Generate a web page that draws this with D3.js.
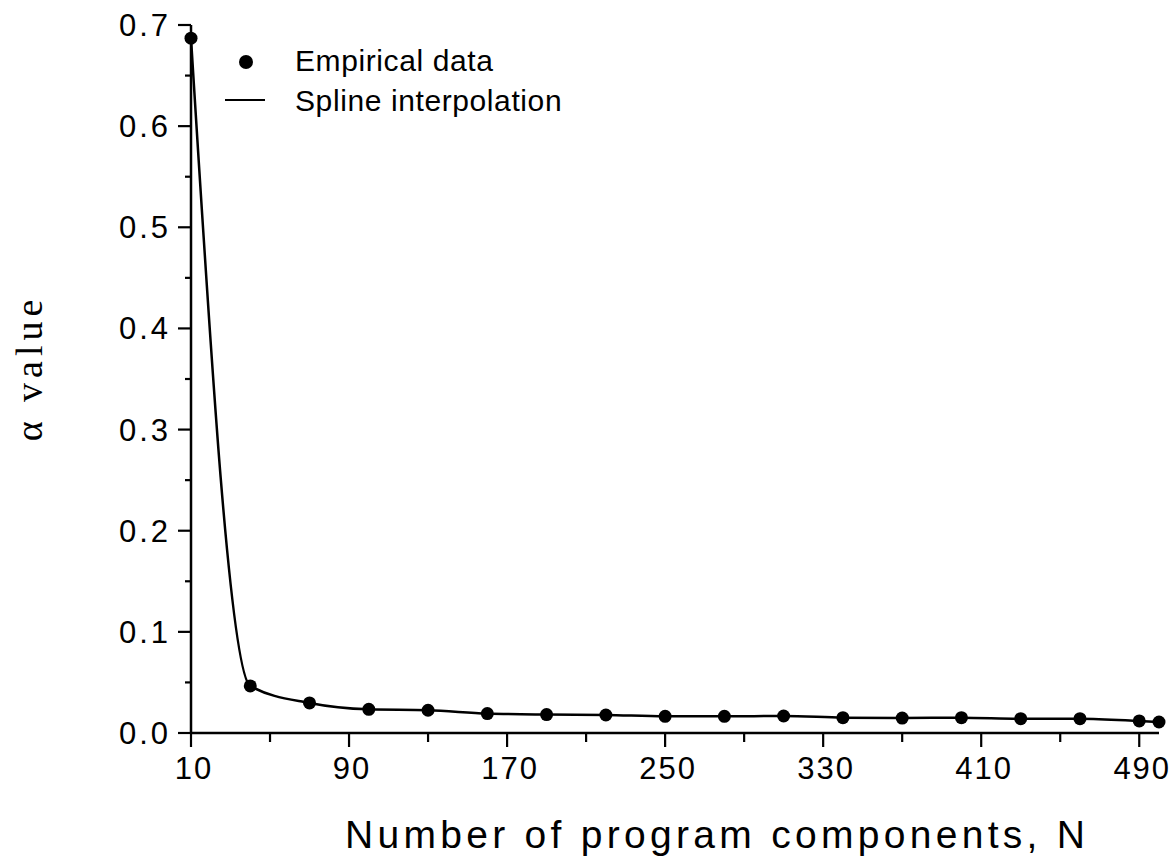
<!DOCTYPE html>
<html lang="en">
<head>
<meta charset="utf-8">
<script src="https://d3js.org/d3.v7.min.js"></script>
<style>
  body { margin: 0; background: #fff; }
  text { font-family: "Liberation Sans", Arial, sans-serif; fill: #000; }
</style>
</head>
<body>
<svg id="chart" width="1172" height="858"></svg>
<script>
// empirical points
const nValues     = [10, 40, 70, 100, 130, 160, 190, 220, 250, 280, 310, 340, 370, 400, 430, 460, 490, 500];
const alphaValues = [0.687, 0.0465, 0.0297, 0.0234, 0.0225, 0.0192, 0.0182, 0.0178, 0.0165, 0.0165,
                     0.0168, 0.0152, 0.0148, 0.0152, 0.0142, 0.0142, 0.0119, 0.0109];

const xMajor = [10, 90, 170, 250, 330, 410, 490];
const xMinor = [50, 130, 210, 290, 370, 450];
const yMajor = [0, 0.1, 0.2, 0.3, 0.4, 0.5, 0.6, 0.7];
const yMinor = [0.05, 0.15, 0.25, 0.35, 0.45, 0.55, 0.65];

const legendItems = ["Empirical data", "Spline interpolation"];

const svg = d3.select("#chart");

const x = d3.scaleLinear().domain([10, 500]).range([191, 1159]);
const y = d3.scaleLinear().domain([0, 0.7]).range([733, 25]);

const data = nValues.map((n, i) => ({ n: n, a: alphaValues[i] }));

// axes
const g = svg.append("g");

g.append("line")
  .attr("x1", x(10)).attr("x2", x(500))
  .attr("y1", y(0)).attr("y2", y(0))
  .attr("stroke", "#000").attr("stroke-width", 2.5);
g.append("line")
  .attr("x1", x(10)).attr("x2", x(10))
  .attr("y1", y(0.7)).attr("y2", y(0))
  .attr("stroke", "#000").attr("stroke-width", 2.5);

// y ticks
g.selectAll(".ymaj").data(yMajor).join("line")
  .attr("x1", x(10) - 13).attr("x2", x(10))
  .attr("y1", d => y(d)).attr("y2", d => y(d))
  .attr("stroke", "#000").attr("stroke-width", 2.2);
g.selectAll(".ymin").data(yMinor).join("line")
  .attr("x1", x(10) - 6).attr("x2", x(10))
  .attr("y1", d => y(d)).attr("y2", d => y(d))
  .attr("stroke", "#000").attr("stroke-width", 2.2);
g.selectAll(".ylab").data(yMajor).join("text")
  .attr("x", x(10) - 20)
  .attr("y", d => y(d) + 11)
  .attr("text-anchor", "end")
  .attr("font-size", 31)
  .attr("letter-spacing", 3)
  .text(d => d3.format(".1f")(d));

// x ticks
g.selectAll(".xmaj").data(xMajor).join("line")
  .attr("x1", d => x(d)).attr("x2", d => x(d))
  .attr("y1", y(0)).attr("y2", y(0) + 14)
  .attr("stroke", "#000").attr("stroke-width", 2.2);
g.selectAll(".xmin").data(xMinor).join("line")
  .attr("x1", d => x(d)).attr("x2", d => x(d))
  .attr("y1", y(0)).attr("y2", y(0) + 9)
  .attr("stroke", "#000").attr("stroke-width", 2.2);
g.selectAll(".xlab").data(xMajor).join("text")
  .attr("x", d => x(d) + 3)
  .attr("y", 779)
  .attr("text-anchor", "middle")
  .attr("font-size", 31)
  .attr("letter-spacing", 2)
  .text(d => d);

// axis titles
svg.append("text")
  .attr("x", 345).attr("y", 848)
  .attr("font-size", 39)
  .attr("textLength", 740)
  .attr("lengthAdjust", "spacing")
  .text("Number of program components, N");

svg.append("text")
  .attr("transform", "translate(42,368) rotate(-90)")
  .attr("text-anchor", "middle")
  .attr("font-size", 38)
  .attr("letter-spacing", 5)
  .style("font-family", "'Liberation Serif', 'DejaVu Serif', serif")
  .text("\u03b1 value");

// spline through the points
const line = d3.line()
  .x(d => x(d.n))
  .y(d => y(d.a))
  .curve(d3.curveMonotoneX);

svg.append("path")
  .datum(data)
  .attr("d", line)
  .attr("fill", "none")
  .attr("stroke", "#000")
  .attr("stroke-width", 2.5);

svg.selectAll(".pt").data(data).join("circle")
  .attr("cx", d => x(d.n))
  .attr("cy", d => y(d.a))
  .attr("r", 6.5)
  .attr("fill", "#000");

// legend
const leg = svg.append("g");
leg.append("circle").attr("cx", 246).attr("cy", 62).attr("r", 7).attr("fill", "#000");
leg.append("line")
  .attr("x1", 225).attr("x2", 265).attr("y1", 100).attr("y2", 100)
  .attr("stroke", "#000").attr("stroke-width", 2.2);
leg.selectAll("text").data(legendItems).join("text")
  .attr("x", 295)
  .attr("y", (d, i) => 71 + i * 40)
  .attr("font-size", 30)
  .attr("letter-spacing", 0.6)
  .text(d => d);
</script>
</body>
</html>
